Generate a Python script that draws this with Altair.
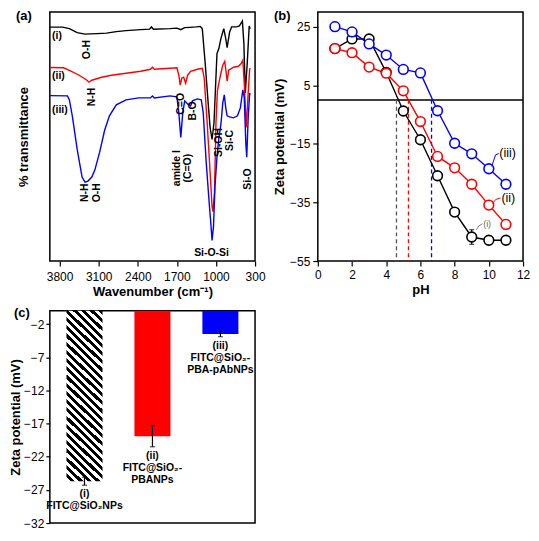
import altair as alt
import pandas as pd

FONT = "Liberation Sans"

# ---------------- (a) FTIR spectra ----------------
wn_i = [3975, 3748, 3625, 3485, 3345, 3135, 2960, 2785, 2610, 2348, 2190, 2155, 2120, 1823, 1700, 1630, 1560, 1473, 1350, 1280,
        1245, 1193, 1140, 1105, 1070, 1035, 982, 948, 912, 860, 825, 800, 755, 720, 632, 580, 527, 500, 475, 440, 405, 388]
t_i = [93.9, 93.9, 93.3, 91.7, 91.1, 91.3, 91.5, 92.1, 92.5, 92.9, 93.1, 94.0, 93.1, 93.3, 93.5, 92.9, 93.7, 93.8, 94.0, 94.2,
       93.3, 79.4, 63.5, 53.6, 48.8, 55.6, 83.3, 85.3, 89.3, 93.3, 89.3, 85.7, 92.0, 94.0, 94.0, 94.4, 96.4, 87.3, 67.5, 79.4, 94.4, 93.3]

wn_ii = [3975, 3730, 3625, 3450, 3310, 3275, 3223, 3048, 2873, 2610, 2348, 2173, 2138, 2103, 1823, 1700, 1665, 1640, 1613, 1578,
         1543, 1508, 1455, 1333, 1245, 1210, 1158, 1105, 1070, 1053, 1026, 1000, 974, 948, 912, 878, 843, 816, 800, 772,
         685, 598, 545, 519, 493, 458, 423, 396, 388]
t_ii = [77.7, 77.6, 76.6, 74.6, 72.6, 71.8, 72.6, 73.8, 74.6, 75.4, 76.2, 77.0, 77.8, 77.0, 77.4, 77.6, 74.6, 70.6, 73.4, 73.8,
        71.4, 74.6, 76.2, 77.0, 77.4, 73.4, 55.6, 35.7, 21.8, 19.8, 27.8, 55.6, 68.3, 71.4, 75.4, 78.6, 80.2, 75.4, 72.2, 76.6,
        77.8, 78.2, 79.4, 80.6, 71.4, 53.6, 67.5, 77.4, 77.0]

wn_iii = [3975, 3660, 3625, 3573, 3485, 3398, 3345, 3293, 3223, 3170, 3083, 2995, 2908, 2785, 2610, 2383, 2173, 2138, 2103, 1823,
          1700, 1665, 1630, 1595, 1560, 1508, 1455, 1420, 1333, 1263, 1228, 1175, 1123, 1088, 1070, 1044, 1018, 982, 948, 912,
          878, 851, 825, 800, 755, 685, 615, 563, 519, 493, 466, 449, 423, 396, 388]
t_iii = [66.4, 66.3, 64.7, 58.3, 44.8, 33.7, 31.7, 32.1, 33.7, 36.5, 43.7, 52.4, 58.3, 62.7, 64.7, 65.5, 65.5, 66.3, 65.5, 66.3,
         65.9, 59.5, 49.6, 59.5, 64.3, 63.1, 62.3, 64.3, 65.1, 64.7, 59.5, 39.7, 23.8, 13.9, 8.3, 13.9, 29.8, 41.7, 49.6, 54.8,
         63.5, 66.7, 61.5, 58.3, 57.9, 57.5, 58.3, 61.5, 68.7, 65.5, 47.6, 41.7, 57.5, 67.5, 66.7]

spectra = ["(i)", "(ii)", "(iii)"]
spec_colors = ["#000000", "#ff0000", "#0000ff"]
wn_ticks = [3800, 3100, 2400, 1700, 1000, 300]

# rotated band labels
band_text = ["O-H", "N-H", "N-H", "O-H", "C=O", "B-O", "amide I", "(C=O)", "Si-OH", "Si-C", "Si-O"]
band_wn = [3310, 3223, 3354, 3135, 1620, 1403, 1691, 1502, 939, 755, 431]
band_t = [84.9, 65.9, 27.4, 27.4, 63.1, 60.3, 37.3, 37.3, 47.6, 48.4, 32.9]
# horizontal labels
htext = ["(i)", "(ii)", "(iii)", "Si-O-Si"]
hwn = [3935, 3935, 3935, 1079]
ht = [90.3, 74.2, 60.7, 3.2]
halign = ["left", "left", "left", "center"]

# ---------------- (b) zeta potential vs pH ----------------
ph = [1, 2, 3, 4, 5, 6, 7, 8, 9, 10, 11]
z_i = [17.5, 20.8, 20.8, 9.4, -3.8, -13.6, -25.9, -38.3, -46.8, -47.9, -47.9]
e_i = [0.8, 1.2, 0.6, 0.5, 0.5, 1.3, 0.8, 1.2, 2.5, 0.6, 1.2]
z_ii = [17.5, 16.1, 11.2, 9.1, 3.1, -7.4, -19.3, -23.2, -28.8, -35.9, -42.5]
e_ii = [0.6, 0.5, 0.5, 0.5, 0.5, 0.5, 0.8, 0.9, 1.2, 1.5, 1.5]
z_iii = [25.0, 23.2, 19.1, 15.3, 10.4, 9.2, -3.7, -14.8, -18.4, -23.5, -28.8]
e_iii = [1.5, 1.3, 0.8, 0.5, 0.5, 0.5, 0.5, 0.5, 0.5, 1.2, 1.2]
pzc = [4.6, 5.3, 6.65]
pzc_colors = ["#555555", "#ff0000", "#0000ff"]
ph_ticks = [0, 2, 4, 6, 8, 10, 12]
zb_ticks = [-55, -45, -35, -25, -15, -5, 5, 15, 25]
# curve labels and leader lines
lab_text = ["(i)", "(ii)", "(iii)"]
lab_ph = [9.9, 11.14, 11.1]
lab_z = [-42.4, -33.6, -18.3]
lead_series = ["(i)"] * 3 + ["(ii)"] * 3 + ["(iii)"] * 3
lead_ph = [9.27, 9.42, 9.62, 10.21, 10.4, 10.68, 10.17, 10.39, 10.58]
lead_z = [-44.3, -43.0, -42.3, -35.4, -34.0, -33.5, -22.7, -18.8, -18.3]

# ---------------- (c) zeta potential bars ----------------
cats = ["(i)", "(ii)", "(iii)"]
zc = [-25.7, -18.9, -3.5]
ec = [0.6, 1.6, 0.4]
cat_labels = ["(i)\nFITC@SiO\u2082NPs", "(ii)\nFITC@SiO\u2082-\nPBANPs", "(iii)\nFITC@SiO\u2082-\nPBA-pAbNPs"]
zc_ticks = [-32, -27, -22, -17, -12, -7, -2]

# ====================== panel (a) ======================
ftir = pd.concat([
    pd.DataFrame({"wn": wn_i, "t": t_i, "s": "(i)", "idx": range(len(wn_i))}),
    pd.DataFrame({"wn": wn_ii, "t": t_ii, "s": "(ii)", "idx": range(len(wn_ii))}),
    pd.DataFrame({"wn": wn_iii, "t": t_iii, "s": "(iii)", "idx": range(len(wn_iii))}),
])
xa = alt.X("wn:Q", scale=alt.Scale(domain=[3975, 300], nice=False, zero=False),
           axis=alt.Axis(values=wn_ticks, title="Wavenumber (cm\u207b\u00b9)", labelFlush=False, labelOverlap=False,
                         tickSize=5, labelPadding=6, titlePadding=3, domain=False, grid=False, format="d"))
ya = alt.Y("t:Q", scale=alt.Scale(domain=[0, 100], nice=False),
           axis=alt.Axis(title="% transmittance", labels=False, ticks=False, domain=False, grid=False, titlePadding=19))

a_lines = alt.Chart(ftir).mark_line(strokeWidth=1.4).encode(
    x=xa, y=ya,
    color=alt.Color("s:N", scale=alt.Scale(domain=spectra, range=spec_colors), legend=None),
    order="idx:Q")
a_rot = alt.Chart(pd.DataFrame({"wn": band_wn, "t": band_t, "txt": band_text})).mark_text(
    angle=270, fontSize=10.5, fontWeight="bold", font=FONT, color="black").encode(x=xa, y=ya, text="txt:N")
hdf = pd.DataFrame({"wn": hwn, "t": ht, "txt": htext, "al": halign})
a_hor = alt.Chart(hdf).transform_filter("datum.al == 'left'").mark_text(
    align="left", fontSize=10.5, fontWeight="bold", font=FONT, color="black").encode(x=xa, y=ya, text="txt:N")
a_hor2 = alt.Chart(hdf).transform_filter("datum.al == 'center'").mark_text(
    align="center", fontSize=10.5, fontWeight="bold", font=FONT, color="black").encode(x=xa, y=ya, text="txt:N")
a_tag = alt.Chart(pd.DataFrame({"txt": ["(a)"]})).mark_text(
    align="left", baseline="top", fontSize=13, fontWeight="bold", font=FONT, color="black").encode(
    x=alt.value(-34), y=alt.value(-2), text="txt:N")
panel_a = alt.layer(a_lines, a_rot, a_hor, a_hor2, a_tag).properties(width=206, height=250)

# ====================== panel (b) ======================
zdf = pd.concat([
    pd.DataFrame({"ph": ph, "z": z_i, "e": e_i, "s": "(i)"}),
    pd.DataFrame({"ph": ph, "z": z_ii, "e": e_ii, "s": "(ii)"}),
    pd.DataFrame({"ph": ph, "z": z_iii, "e": e_iii, "s": "(iii)"}),
])
sy_b = alt.Scale(domain=[-55, 30], nice=False)
ax_yb = alt.Axis(values=zb_ticks, title="Zeta potential (mV)", tickSize=5, labelPadding=3, labelOverlap=False,
                 titlePadding=3, domain=False, grid=False)
xb = alt.X("ph:Q", scale=alt.Scale(domain=[0, 12], nice=False),
           axis=alt.Axis(values=ph_ticks, title="pH", labelFlush=False, labelOverlap=False, tickSize=5, labelPadding=4,
                         titlePadding=3, domain=False, grid=False))
yb = alt.Y("z:Q", scale=sy_b, axis=ax_yb)
ylo_b = alt.Y("lo:Q", scale=sy_b, axis=ax_yb)
yhi_b = alt.Y("hi:Q", scale=sy_b, axis=ax_yb)
scol = alt.Scale(domain=spectra, range=spec_colors)

b_zero = alt.Chart(pd.DataFrame({"z": [0]})).mark_rule(color="black", strokeWidth=1.5).encode(y=yb)
b_pzc = alt.Chart(pd.DataFrame({"ph": pzc, "s": spectra})).mark_rule(
    strokeDash=[4, 3], strokeWidth=1.3).encode(
    x=xb, y=alt.datum(0), y2=alt.datum(-55),
    color=alt.Color("s:N", scale=alt.Scale(domain=spectra, range=pzc_colors), legend=None))
b_err = alt.Chart(zdf).transform_calculate(lo="datum.z - datum.e", hi="datum.z + datum.e")
b_errbar = b_err.mark_rule(color="black", strokeWidth=1.2).encode(x=xb, y=ylo_b, y2="hi:Q")
b_cap_lo = b_err.mark_tick(color="black", orient="horizontal", size=5, thickness=1.2).encode(x=xb, y=ylo_b)
b_cap_hi = b_err.mark_tick(color="black", orient="horizontal", size=5, thickness=1.2).encode(x=xb, y=yhi_b)
b_lines = alt.Chart(zdf).mark_line(strokeWidth=1.4).encode(
    x=xb, y=yb, color=alt.Color("s:N", scale=scol, legend=None), order="ph:Q")
b_pts = alt.Chart(zdf).mark_point(shape="circle", filled=True, fill="white", size=95, strokeWidth=1.6, opacity=1).encode(
    x=xb, y=yb, stroke=alt.Stroke("s:N", scale=scol, legend=None))
b_lead = alt.Chart(pd.DataFrame({"ph": lead_ph, "z": lead_z, "s": lead_series})).mark_line(strokeWidth=1).encode(
    x=xb, y=yb, detail="s:N",
    color=alt.Color("s:N", scale=alt.Scale(domain=spectra, range=["#777777", "#ff0000", "#0000ff"]), legend=None))
lab_df = pd.DataFrame({"ph": lab_ph, "z": lab_z, "txt": lab_text})
b_lab_small = alt.Chart(lab_df).transform_filter("datum.txt == '(i)'").mark_text(
    fontSize=9, font=FONT, color="#666666").encode(x=xb, y=yb, text="txt:N")
b_lab = alt.Chart(lab_df).transform_filter("datum.txt != '(i)'").mark_text(
    fontSize=12.5, font=FONT, color="black").encode(x=xb, y=yb, text="txt:N")
b_tag = alt.Chart(pd.DataFrame({"txt": ["(b)"]})).mark_text(
    align="left", baseline="top", fontSize=13, fontWeight="bold", font=FONT, color="black").encode(
    x=alt.value(-44), y=alt.value(-2), text="txt:N")
panel_b = alt.layer(b_zero, b_pzc, b_errbar, b_cap_lo, b_cap_hi, b_lines, b_pts, b_lead, b_lab_small, b_lab, b_tag
                    ).resolve_scale(color="independent").properties(width=206, height=250)

# ====================== panel (c) ======================
cdf = pd.DataFrame({"cat": cats, "z": zc, "e": ec, "lab": cat_labels})
sy_c = alt.Scale(domain=[-32, 0], nice=False)
ax_yc = alt.Axis(values=zc_ticks, title="Zeta potential (mV)", tickSize=4, labelPadding=2, labelOverlap=False,
                 titlePadding=1, domain=False, grid=False)
xc = alt.X("cat:N", sort=cats, scale=alt.Scale(paddingInner=0.47, paddingOuter=0.245), axis=None)
yc = alt.Y("z:Q", scale=sy_c, axis=ax_yc)
ylo_c = alt.Y("lo:Q", scale=sy_c, axis=ax_yc)
yhi_c = alt.Y("hi:Q", scale=sy_c, axis=ax_yc)

N = 25
stops = []
for i in range(N):
    a0, am, a1 = i / N, (i + 0.5) / N, (i + 1) / N
    stops += [{"offset": a0, "color": "white"}, {"offset": am, "color": "white"},
              {"offset": am, "color": "black"}, {"offset": a1, "color": "black"}]
hatch = {"gradient": "linear", "x1": 0, "y1": 1, "x2": 0.237, "y2": -0.156, "stops": stops}

c_hatch = alt.Chart(cdf).transform_filter("datum.cat == '(i)'").mark_bar(fill=hatch).encode(x=xc, y=yc)
c_bars = alt.Chart(cdf).transform_filter("datum.cat != '(i)'").mark_bar().encode(
    x=xc, y=yc,
    color=alt.Color("cat:N", scale=alt.Scale(domain=["(ii)", "(iii)"], range=["#ff0000", "#0000ff"]), legend=None))
c_err = alt.Chart(cdf).transform_calculate(lo="datum.z - datum.e", hi="datum.z + datum.e")
c_errbar = c_err.mark_rule(color="black", strokeWidth=1.2).encode(x=xc, y=ylo_c, y2="hi:Q")
c_cap1 = c_err.mark_tick(color="black", size=5, thickness=1.2).encode(x=xc, y=ylo_c)
c_cap2 = c_err.mark_tick(color="black", size=5, thickness=1.2).encode(x=xc, y=yhi_c)
c_text = c_err.mark_text(baseline="top", align="center", lineBreak="\n", fontSize=10.5, fontWeight="bold",
                         font=FONT, color="black", dy=4, lineHeight=12).encode(x=xc, y=ylo_c, text="lab:N")
c_tag = alt.Chart(pd.DataFrame({"txt": ["(c)"]})).mark_text(
    align="left", baseline="top", fontSize=13, fontWeight="bold", font=FONT, color="black").encode(
    x=alt.value(-36), y=alt.value(-4), text="txt:N")
panel_c = alt.layer(c_hatch, c_bars, c_errbar, c_cap1, c_cap2, c_text, c_tag).properties(width=206, height=213)

top = alt.hconcat(panel_a, panel_b, spacing=6)
chart = alt.vconcat(top, panel_c, spacing=6).properties(
    padding={"left": 0, "top": 0, "right": 0, "bottom": 0}
).configure(font=FONT).configure_view(stroke="black", strokeWidth=1.5).configure_axis(
    labelFont=FONT, titleFont=FONT, labelFontSize=12, titleFontSize=13, titleFontWeight="bold",
    labelColor="black", titleColor="black", tickColor="black", tickWidth=1.2)

chart.save("out.html", embed_options={"renderer": "svg", "actions": False})
